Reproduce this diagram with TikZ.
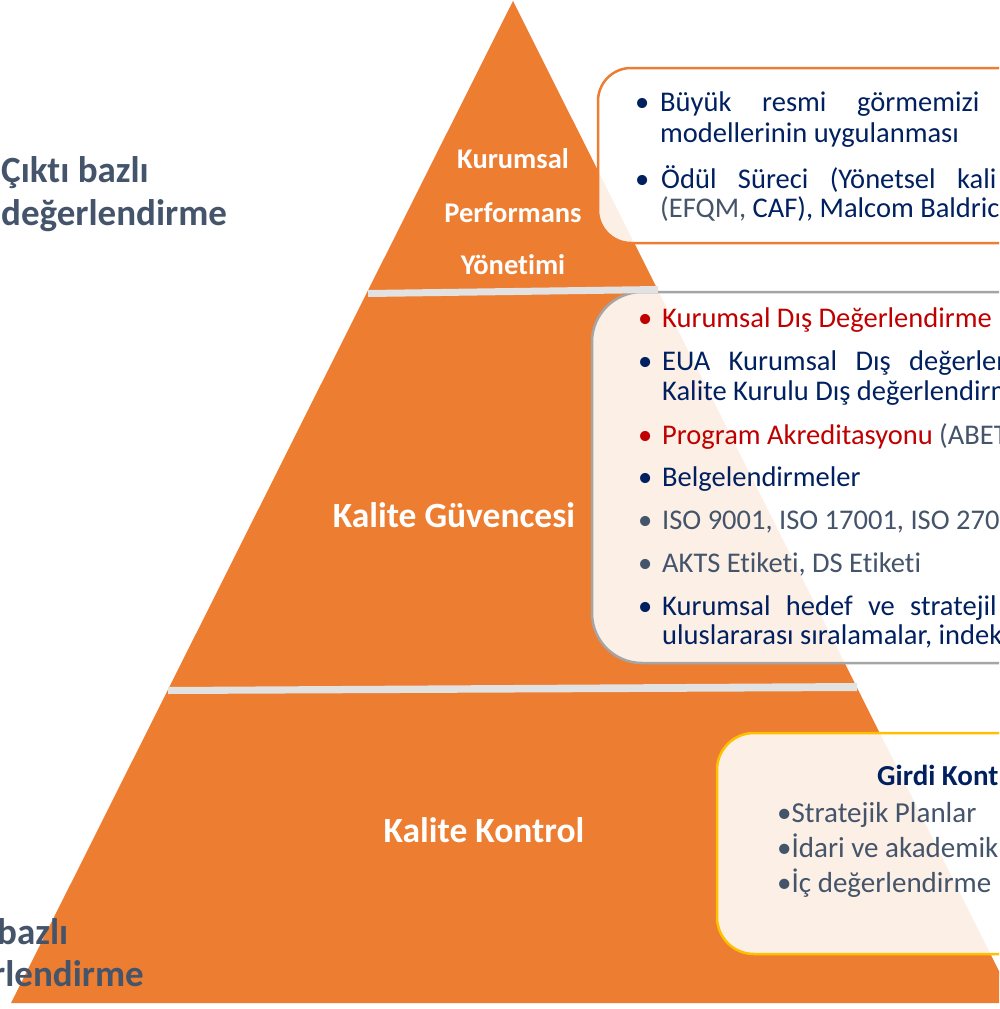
\documentclass[tikz,border=0pt]{standalone}
\usepackage{fontspec}
\setmainfont{Carlito}[Ligatures={NoCommon}]
\definecolor{tri}{HTML}{ED7D31}
\definecolor{navy}{HTML}{002060}
\definecolor{dred}{HTML}{C00000}
\definecolor{slate}{HTML}{44546A}
\definecolor{sepgray}{HTML}{E2E2E2}
\definecolor{boxgray}{HTML}{A5A5A5}
\definecolor{gold}{HTML}{FFC000}
\newlength\jlen
\newcommand\jline[3]{\settowidth{\jlen}{#3}\addtolength{\jlen}{#1}\makebox[\jlen][s]{#2 #3}}
\tikzset{
  bodytxt/.style={anchor=base west, inner sep=0pt, text=navy, font=\fontsize{28.5}{30}\selectfont},
  bul/.style={bodytxt},
  pyrsmall/.style={anchor=base, inner sep=0pt, text=white, font=\fontsize{28.5}{30}\selectfont\bfseries},
  pyrbig/.style={anchor=base, inner sep=0pt, text=white, font=\fontsize{35.5}{38}\selectfont\bfseries},
  sidelbl/.style={anchor=base west, inner sep=0pt, text=slate, font=\fontsize{37}{40}\selectfont\bfseries},
  infobox/.style={line width=2.5pt, fill=white, fill opacity=0.88},
  sepband/.style={fill=sepgray},
}
\begin{document}
\begin{tikzpicture}[x=1pt,y=-1pt]
\useasboundingbox (0,0) rectangle (999,1009);
\clip (0,0) rectangle (999,1009);
\fill[white] (0,0) rectangle (999,1009);
% pyramid
\fill[tri] (513,1) -- (1015,1003) -- (11,1003) -- cycle;
% boxes
\draw[infobox, draw=tri, rounded corners=33pt] (598,68) rectangle (1060,243);
\draw[infobox, draw=boxgray, rounded corners=50pt] (592,292) rectangle (1080,663);
\draw[infobox, draw=gold, rounded corners=37pt] (717,733) rectangle (1070,954);
% separators
\fill[sepband] (368,290) -- (658,286) -- (658,293) -- (368,297) -- cycle;
\fill[sepband] (168,687) -- (857,683) -- (857,691) -- (168,694) -- cycle;
% pyramid labels
\node[pyrsmall] (kp1) at (513,168) {Kurumsal};
\node[pyrsmall] (kp2) at (513,222) {Performans};
\node[pyrsmall] (kp3) at (513,274) {Yönetimi};
\node[pyrbig] (kg) at (454,527) {Kalite Güvencesi};
\node[pyrbig] (kk) at (484,842) {Kalite Kontrol};
% side labels
\node[sidelbl] (s1) at (1,182) {Çıktı bazlı};
\node[sidelbl] (s2) at (1,225) {değerlendirme};
\node[sidelbl] (s3) at (-3,944) {bazlı};
\node[sidelbl] (s4) at (-8,986) {rlendirme};
% box 1
\node[bul] (b1a) at (635,111) {•};
\node[bodytxt] (t1a) at (660,111) {\jline{197pt}{Büyük resmi}{görmemizi}};
\node[bodytxt] (t1b) at (660,142) {modellerinin uygulanması};
\node[bul] (b1c) at (635,188) {•};
\node[bodytxt] (t1c) at (661,188) {\jline{296pt}{Ödül Süreci (Yönetsel}{kali}};
\node[bodytxt] (t1d) at (660,217) {\textcolor{slate}{(EFQM,} CAF), Malcom Baldric};
% box 2
\node[bul, text=dred] (b2a) at (638,327) {•};
\node[bodytxt, text=dred] (t2a) at (662,327) {Kurumsal Dış Değerlendirme};
\node[bul] (b2b) at (638,370) {•};
\node[bodytxt] (t2b) at (662,370) {\jline{247pt}{EUA Kurumsal Dış}{değerlen}};
\node[bodytxt] (t2c) at (662,400) {Kalite Kurulu Dış değerlendirm};
\node[bul, text=dred] (b2d) at (638,444) {•};
\node[bodytxt, text=dred] (t2d) at (662,444) {Program Akreditasyonu \textcolor{slate}{(ABET}};
\node[bul] (b2e) at (638,486) {•};
\node[bodytxt] (t2e) at (662,486) {Belgelendirmeler};
\node[bul, text=slate] (b2f) at (638,529) {•};
\node[bodytxt, text=slate] (t2f) at (662,529) {ISO 9001, ISO 17001, ISO 2700};
\node[bul, text=slate] (b2g) at (638,572) {•};
\node[bodytxt, text=slate] (t2g) at (662,572) {AKTS Etiketi, DS Etiketi};
\node[bul] (b2h) at (638,615) {•};
\node[bodytxt] (t2h) at (662,615) {\jline{248pt}{Kurumsal hedef ve}{stratejil}};
\node[bodytxt] (t2i) at (662,644) {uluslararası sıralamalar, indek};
% box 3
\node[bodytxt, font=\fontsize{29}{31}\selectfont\bfseries] (t3a) at (877,785) {Girdi Kont};
\node[bodytxt, text=slate, font=\fontsize{29}{31}\selectfont] (t3b) at (777,822) {•Stratejik Planlar};
\node[bodytxt, text=slate, font=\fontsize{29}{31}\selectfont] (t3c) at (777,857) {•İdari ve akademik};
\node[bodytxt, text=slate, font=\fontsize{29}{31}\selectfont] (t3d) at (777,892) {•İç değerlendirme};
\end{tikzpicture}
\end{document}
